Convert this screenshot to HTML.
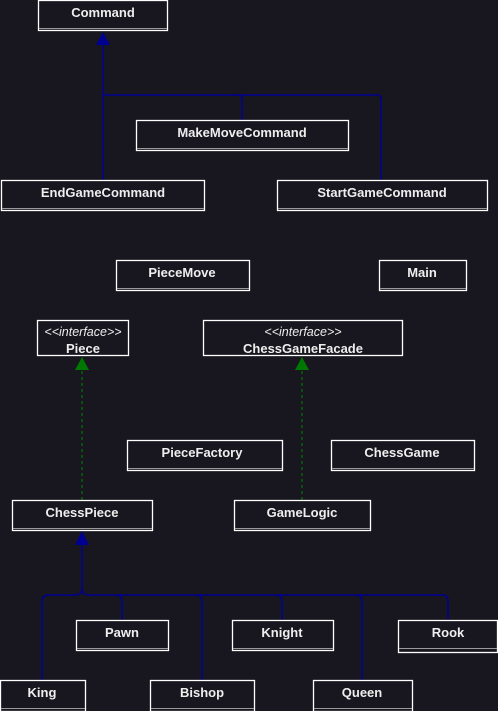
<!DOCTYPE html>
<html><head><style>
html,body{margin:0;padding:0;background:#18161f;}
svg{display:block}
text{font-family:"Liberation Sans",Arial,sans-serif;fill:#eeeeee;font-size:13px;text-anchor:middle}
.b{font-weight:bold}
.i{font-style:italic;font-size:12.5px}
</style></head><body>
<svg width="498" height="711" viewBox="0 0 498 711" xmlns="http://www.w3.org/2000/svg">
<rect width="498" height="711" fill="#18161f"/>
<g fill="none" stroke="#000090" stroke-width="1.5">
<path d="M103 180 V45"/>
<path d="M103 95 Q103 95 107 95 H377 Q381 95 381 99 V180"/>
<path d="M238 95 Q242 95 242 99 V120"/>
<path d="M82 545 V588 Q82 595 89 595 H442 Q448 595 448 601 V620"/>
<path d="M82 588 Q82 595 75 595 H49 Q42 595 42 601 V680"/>
<path d="M116 595 Q122 595 122 601 V620"/>
<path d="M196 595 Q202 595 202 601 V680"/>
<path d="M276 595 Q282 595 282 601 V620"/>
<path d="M356 595 Q362 595 362 601 V680"/>
</g>
<polygon points="103,32 96,45 110,45" fill="#000090"/>
<polygon points="82,531 75,545 89,545" fill="#000090"/>
<g stroke="#007700" stroke-width="1.2" stroke-dasharray="3,3" fill="none">
<path d="M82 500 V370"/><path d="M302 500 V370"/>
</g>
<polygon points="82,357 75,370 89,370" fill="#007700"/>
<polygon points="302,357 295,370 309,370" fill="#007700"/>
<g fill="none" stroke="#ffffff" stroke-width="1.3">
<rect x="38.5" y="0.5" width="129" height="30"/>
<rect x="136.5" y="120.5" width="212" height="30"/>
<rect x="1.5" y="180.5" width="203" height="30"/>
<rect x="277.5" y="180.5" width="210" height="30"/>
<rect x="116.5" y="260.5" width="133" height="30"/>
<rect x="379.5" y="260.5" width="87" height="30"/>
<rect x="37.5" y="320.5" width="91" height="35"/>
<rect x="203.5" y="320.5" width="199" height="35"/>
<rect x="127.5" y="440.5" width="155" height="30"/>
<rect x="331.5" y="440.5" width="143" height="30"/>
<rect x="12.5" y="500.5" width="140" height="30"/>
<rect x="234.5" y="500.5" width="136" height="30"/>
<rect x="76.5" y="620.5" width="92" height="30"/>
<rect x="232.5" y="620.5" width="101" height="30"/>
<rect x="398.5" y="620.5" width="99" height="32"/>
<rect x="0.5" y="680.5" width="85" height="31"/>
<rect x="150.5" y="680.5" width="104" height="31"/>
<rect x="313.5" y="680.5" width="99" height="31"/>
</g>
<g stroke="#9a9a9a" stroke-width="1">
<path d="M39 28.5H167M137 148.5H348M2 208.5H204M278 208.5H487M117 288.5H249M380 288.5H466M128 468.5H282M332 468.5H474M13 528.5H152M235 528.5H370M77 648.5H168M233 648.5H333M399 648.5H497M1 708.5H85M151 708.5H254M314 708.5H412"/>
</g>
<text class="b" x="103" y="17">Command</text>
<text class="b" x="242" y="137">MakeMoveCommand</text>
<text class="b" x="103" y="197">EndGameCommand</text>
<text class="b" x="382" y="197">StartGameCommand</text>
<text class="b" x="182" y="277">PieceMove</text>
<text class="b" x="422" y="277">Main</text>
<text class="i" x="83" y="336">&lt;&lt;interface&gt;&gt;</text>
<text class="b" x="83" y="353">Piece</text>
<text class="i" x="303" y="336">&lt;&lt;interface&gt;&gt;</text>
<text class="b" x="303" y="353">ChessGameFacade</text>
<text class="b" x="202" y="457">PieceFactory</text>
<text class="b" x="402" y="457">ChessGame</text>
<text class="b" x="82" y="517">ChessPiece</text>
<text class="b" x="302" y="517">GameLogic</text>
<text class="b" x="122" y="637">Pawn</text>
<text class="b" x="282" y="637">Knight</text>
<text class="b" x="448" y="637">Rook</text>
<text class="b" x="42" y="697">King</text>
<text class="b" x="202" y="697">Bishop</text>
<text class="b" x="362" y="697">Queen</text>
</svg>
</body></html>
